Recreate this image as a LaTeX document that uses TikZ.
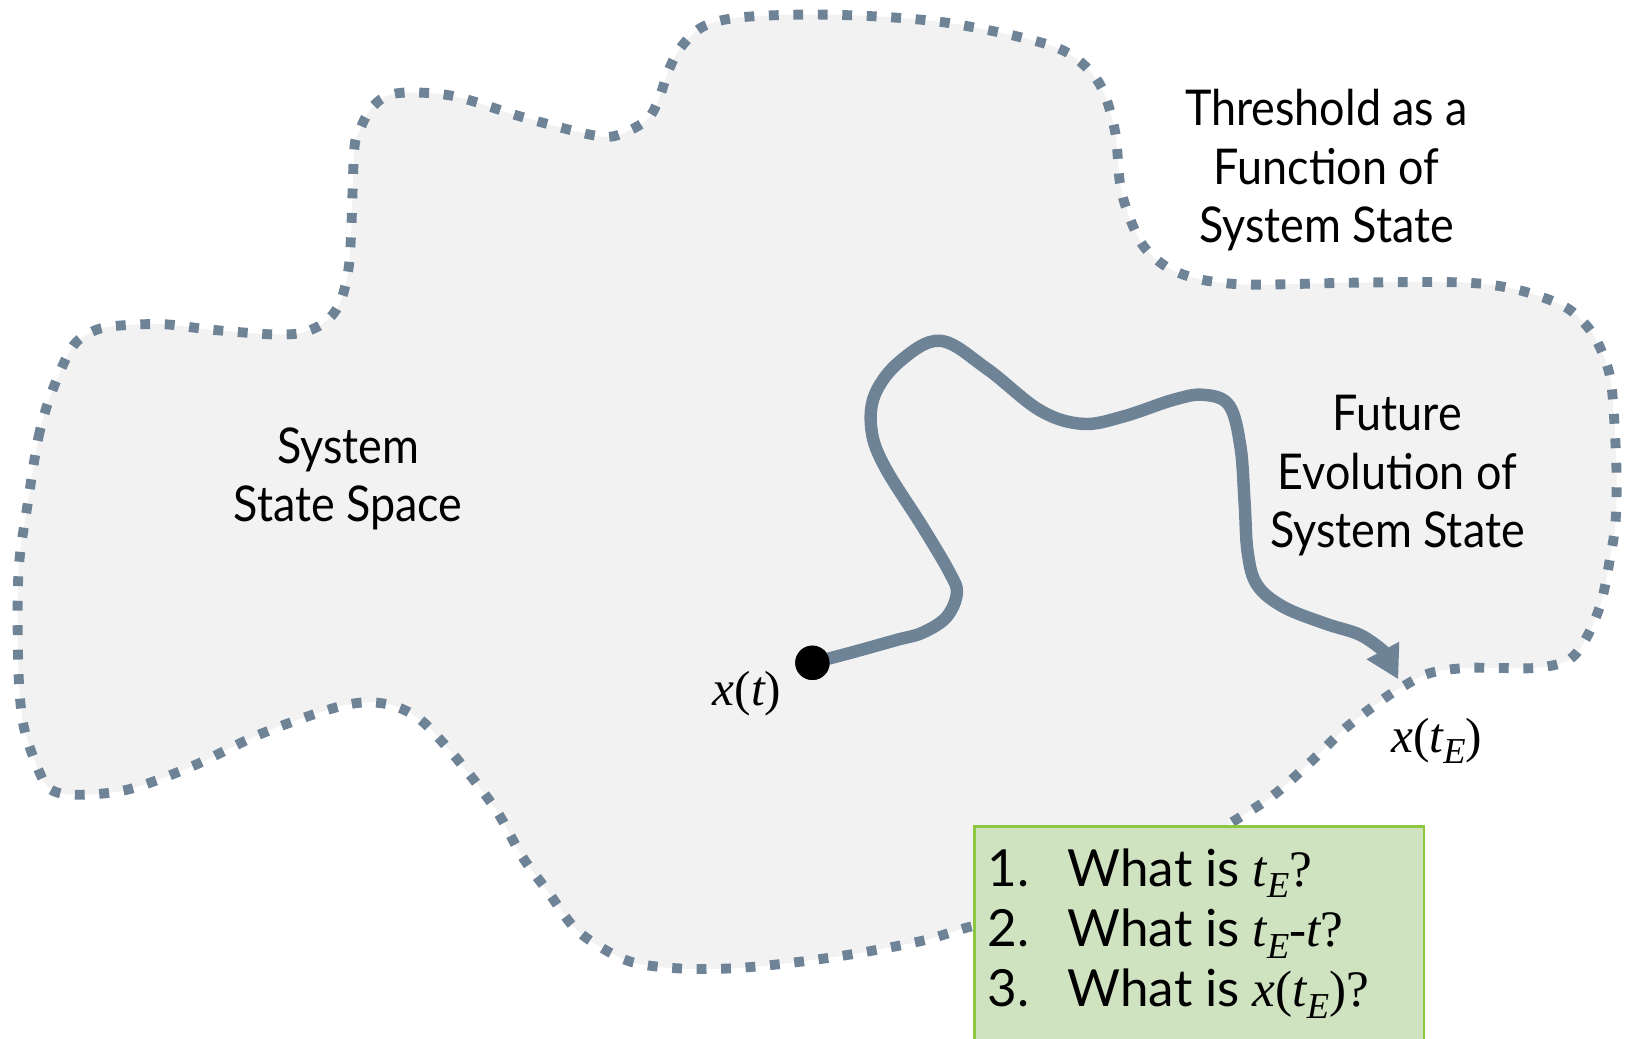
\documentclass[tikz,border=0pt]{standalone}
\usepackage{fontspec}
\setmainfont{Lato}[FakeStretch=0.91]
\newfontfamily\boxfont{Lato}
\newfontfamily\tmf{Liberation Serif}
\usetikzlibrary{arrows.meta}
\definecolor{slate}{HTML}{6F8397}
\definecolor{blobfill}{HTML}{F2F2F2}
\definecolor{qfill}{HTML}{CFE3C1}
\definecolor{qborder}{HTML}{8DC641}
\newlength\ux \setlength\ux{0.01cm}
\newcommand\mv[1]{{\tmf\itshape #1}}
\newcommand\mrm[1]{{\tmf #1}}
\newcommand\msb[1]{\raisebox{-0.45ex}{\tmf\itshape\fontsize{10}{11}\selectfont #1}}
\tikzset{
  blob/.style={fill=blobfill, draw=slate, line width=2.7pt, dash pattern=on 2.7pt off 4.0pt, line cap=butt},
  traj/.style={draw=slate, line width=3.4pt, line cap=round, -{Triangle[length=9pt,width=9.5pt]}},
  lbl/.style={align=center, font=\fontsize{13.5}{16}\selectfont, inner sep=0pt},
  mlbl/.style={font=\fontsize{13.5}{16}\selectfont, inner sep=0pt},
  qbox/.style={draw=qborder, fill=qfill, line width=0.8pt, inner sep=0pt},
}
\begin{document}
\begin{tikzpicture}[x=0.01cm, y=-0.01cm]
\useasboundingbox (0,0) rectangle (1568,1000);
% threshold outline
\path[blob] plot[smooth cycle, tension=0.55] coordinates {
 (26,489) (37,421) (50,377) (69,335) (87,320) (109,314) (156,312) (200,317)
 (247,321) (271,322) (292,320) (313,310) (327,292) (335,262) (338,224) (341,144)
 (346,126) (356,106) (371,93) (394,89) (439,93) (504,113) (570,130) (595,130)
 (623,115) (635,93) (643,69) (655,46) (676,26) (710,17) (776,14) (847,16)
 (912,22) (983,36) (1028,51) (1058,80) (1073,125) (1078,176) (1086,206)
 (1100,236) (1120,255) (1141,265) (1167,271) (1208,274) (1309,272) (1410,272)
 (1461,279) (1504,294) (1525,311) (1538,330) (1549,359) (1553,392) (1556,455)
 (1555,503) (1550,536) (1542,577) (1531,606) (1518,628) (1504,638) (1477,643)
 (1444,643) (1410,643) (1376,648) (1350,661) (1330,674) (1295,701) (1261,734)
 (1225,766) (1185,792) (1100,845) (1000,877) (934,892) (890,905) (829,917)
 (768,926) (706,932) (651,932) (608,926) (577,911) (552,892) (528,859)
 (503,825) (479,782) (454,748) (430,719) (405,693) (381,680) (356,676)
 (331,679) (295,690) (245,709) (184,738) (123,760) (74,765) (49,760) (37,741)
 (23,700) (18,652) (17,580) (19,536) };
% labels
\node[lbl] (thr) at (1277,164) {Threshold as a\\Function of\\System State};
\node[lbl] (sss) at (335,461) {System\\State Space};
\node[lbl] (fut) at (1345,458) {Future\\Evolution of\\System State};
% trajectory
\node[circle, fill=black, inner sep=0pt, minimum size=0.33cm] (xt) at (782,638) {};
\coordinate (xtE) at (1346,654);
\draw[traj] plot[smooth, tension=0.6] coordinates {
 (xt.center) (820,628) (863,616) (888,609) (911,594) (921,571) (914,551)
 (888,507) (852,450) (839,415) (842,380) (866,348) (905,328) (950,355)
 (1001,395) (1042,408) (1081,401) (1129,385) (1158,380) (1183,390) (1194,430)
 (1198,484) (1201,532) (1210,563) (1235,584) (1275,600) (1309,611) (1331,626) }
 -- (xtE);
\node[circle, fill=black, inner sep=0pt, minimum size=0.33cm] at (xt) {};
\node[mlbl] (xtlbl) at (719,668) {\mv{x}\mrm{(}\mv{t}\mrm{)}};
\node[mlbl] (xtElbl) at (1383,713) {\mv{x}\mrm{(}\mv{t}\msb{E}\mrm{)}};
% questions box
\node[qbox, anchor=north west, minimum width=4.32cm, minimum height=2.1cm] (q) at (937,794) {};
\node[anchor=base west, inner sep=0pt, font=\boxfont\fontsize{14}{16.5}\selectfont] (qtext) at (955,853) {%
\begin{tabular}[t]{@{}l@{}}
\makebox[35\ux][r]{1.}\hspace{37\ux}What is \mv{t}\msb{E}\mrm{?}\\
\makebox[35\ux][r]{2.}\hspace{37\ux}What is \mv{t}\msb{E}\mrm{-}\mv{t}\mrm{?}\\
\makebox[35\ux][r]{3.}\hspace{37\ux}What is \mv{x}\mrm{(}\mv{t}\msb{E}\mrm{)?}
\end{tabular}};
\end{tikzpicture}
\end{document}
